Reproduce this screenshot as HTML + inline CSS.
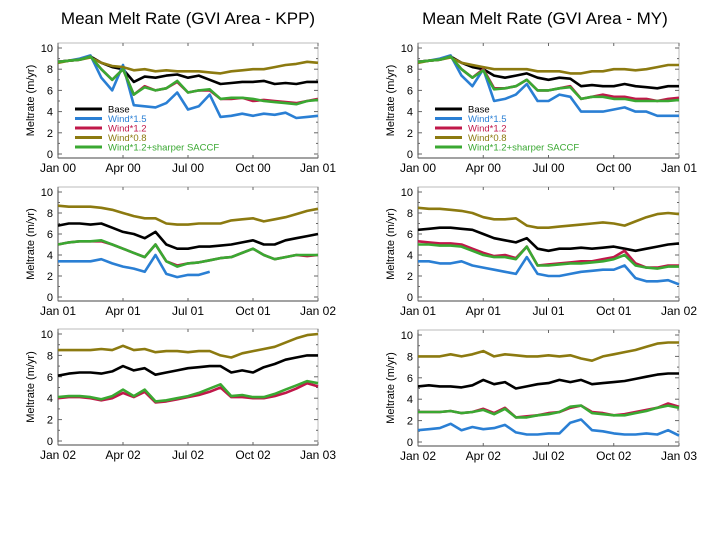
<!DOCTYPE html>
<html><head><meta charset="utf-8">
<style>
html,body{margin:0;padding:0;background:#fff;width:720px;height:540px;overflow:hidden;font-family:"Liberation Sans",sans-serif;}
svg{display:block}
</style></head>
<body>
<svg id="chart" width="720" height="540">
<text x="188" y="24" text-anchor="middle" font-size="17">Mean Melt Rate (GVI Area - KPP)</text>
<text x="545" y="24" text-anchor="middle" font-size="17">Mean Melt Rate (GVI Area - MY)</text>
</svg>
<script>
const seriesNames = ["Base","Wind*1.5","Wind*1.2","Wind*0.8","Wind*1.2+sharper SACCF"];
const seriesNamesRight = ["Base","Wind*1.5","Wind*1.2","Wind*0.8","Wind*1.2+sharper SACCF"];
const colors = ["#000000","#2a7fd4","#c0184a","#8c7a10","#3aa832"];
const yTicks = [0,2,4,6,8,10];
const years = ["00","01","02"];
const monthLabels = ["Jan","Apr","Jul","Oct","Jan"];

const kpp00_base  = [8.7,8.8,8.9,9.2,8.6,8.2,8.0,6.8,7.3,7.2,7.4,7.5,7.2,7.4,7.0,6.6,6.7,6.8,6.8,6.9,6.6,6.7,6.6,6.8,6.8];
const kpp00_blue  = [8.7,8.8,9.0,9.3,7.2,6.0,8.4,4.6,4.5,4.4,4.8,5.8,4.2,4.5,5.6,3.5,3.6,3.8,3.6,3.8,3.7,3.9,3.4,3.5,3.6];
const kpp00_red   = [8.7,8.8,8.9,9.2,8.0,7.0,8.0,5.6,6.4,6.0,6.2,6.8,5.8,6.0,6.0,5.2,5.2,5.3,5.0,5.1,5.0,4.9,4.8,5.0,5.2];
const kpp00_olive = [8.6,8.8,8.9,9.1,8.6,8.3,8.2,7.9,8.0,7.8,7.9,7.8,7.8,7.8,7.7,7.6,7.8,7.9,8.0,8.0,8.2,8.4,8.5,8.7,8.6];
const kpp00_green = [8.7,8.8,8.9,9.2,8.0,7.0,8.0,5.6,6.3,6.0,6.2,6.9,5.8,6.0,6.1,5.2,5.3,5.3,5.2,5.0,4.9,4.8,4.7,5.0,5.1];

const kpp01_base  = [6.8,7.0,7.0,6.9,7.0,6.6,6.2,6.0,5.6,6.2,5.0,4.6,4.6,4.8,4.8,4.9,5.0,5.2,5.4,5.0,5.0,5.4,5.6,5.8,6.0];
const kpp01_blue  = [3.4,3.4,3.4,3.4,3.6,3.2,2.9,2.7,2.4,4.0,2.2,1.9,2.1,2.1,2.4,null,null,null,null,null,null,null,null,null,null];
const kpp01_red   = [5.0,5.2,5.3,5.3,5.3,5.0,4.6,4.2,3.8,5.0,3.4,3.0,3.2,3.3,3.5,3.7,3.8,4.2,4.6,4.0,3.6,3.8,4.0,3.9,4.0];
const kpp01_olive = [8.7,8.6,8.6,8.6,8.5,8.3,8.0,7.7,7.5,7.5,7.0,6.9,6.9,7.0,7.0,7.0,7.3,7.4,7.5,7.2,7.4,7.6,7.9,8.2,8.4];
const kpp01_green = [5.0,5.2,5.3,5.3,5.4,5.0,4.6,4.2,3.8,5.0,3.4,2.9,3.2,3.3,3.5,3.7,3.8,4.2,4.6,4.0,3.6,3.8,4.0,4.0,4.0];

const kpp02_base  = [6.1,6.3,6.4,6.4,6.3,6.5,7.0,6.6,6.8,6.2,6.4,6.6,6.8,6.9,7.0,7.0,6.4,6.6,6.4,6.9,7.2,7.6,7.8,8.0,8.0];
const kpp02_blue  = [null,null,null,null,null,null,null,null,null,null,null,null,null,null,null,null,null,null,null,null,null,null,null,null,null];
const kpp02_red   = [4.0,4.1,4.1,4.0,3.8,4.0,4.5,4.1,4.6,3.6,3.7,3.9,4.1,4.3,4.6,5.0,4.1,4.1,4.0,4.0,4.2,4.5,4.9,5.4,5.1];
const kpp02_olive = [8.5,8.5,8.5,8.5,8.6,8.5,8.9,8.5,8.6,8.3,8.4,8.4,8.3,8.4,8.4,8.0,7.8,8.2,8.4,8.6,8.8,9.2,9.6,9.9,10.0];
const kpp02_green = [4.1,4.2,4.2,4.1,3.9,4.2,4.8,4.2,4.8,3.7,3.8,4.0,4.2,4.5,4.9,5.3,4.2,4.3,4.1,4.1,4.4,4.8,5.2,5.6,5.4];

const my00_base  = [8.7,8.8,8.9,9.2,8.6,8.2,8.0,7.4,7.2,7.4,7.6,7.2,7.0,7.2,7.1,6.4,6.5,6.4,6.4,6.6,6.4,6.3,6.2,6.4,6.4];
const my00_blue  = [8.7,8.8,9.0,9.3,7.4,6.4,8.0,5.0,5.2,5.6,6.6,5.0,5.0,5.6,5.4,4.0,4.0,4.0,4.2,4.4,4.0,4.0,3.6,3.6,3.6];
const my00_red   = [8.7,8.8,8.9,9.2,8.0,7.2,8.0,6.2,6.2,6.4,7.0,6.0,6.0,6.2,6.4,5.2,5.4,5.6,5.4,5.4,5.2,5.2,5.0,5.2,5.3];
const my00_olive = [8.6,8.8,8.9,9.1,8.6,8.4,8.2,8.0,8.0,8.0,8.0,7.8,7.8,7.8,7.6,7.6,7.8,7.8,8.0,8.0,7.9,8.0,8.2,8.4,8.4];
const my00_green = [8.7,8.8,8.9,9.2,8.0,7.2,7.9,6.1,6.2,6.4,7.0,6.0,6.0,6.2,6.3,5.2,5.4,5.4,5.2,5.2,5.0,5.0,5.0,5.0,5.1];

const my01_base  = [6.4,6.5,6.6,6.6,6.5,6.4,6.0,5.6,5.4,5.2,5.6,4.6,4.4,4.6,4.6,4.7,4.6,4.7,4.8,4.6,4.4,4.6,4.8,5.0,5.1];
const my01_blue  = [3.4,3.4,3.2,3.2,3.4,3.0,2.8,2.6,2.4,2.2,3.8,2.2,2.0,2.0,2.2,2.4,2.5,2.6,2.6,3.0,1.8,1.5,1.5,1.6,1.2];
const my01_red   = [5.3,5.2,5.1,5.1,5.0,4.6,4.2,3.9,4.0,3.7,4.8,3.0,3.1,3.2,3.3,3.4,3.4,3.6,3.8,4.4,3.2,2.8,2.8,3.0,3.0];
const my01_olive = [8.5,8.4,8.4,8.3,8.2,8.0,7.6,7.4,7.4,7.5,6.8,6.6,6.6,6.7,6.8,6.9,7.0,7.1,7.0,6.8,7.2,7.6,7.9,8.0,7.9];
const my01_green = [5.0,5.0,4.9,4.9,4.8,4.4,4.0,3.8,3.8,3.6,4.8,3.0,3.0,3.1,3.2,3.2,3.3,3.4,3.6,4.0,3.0,2.8,2.7,2.9,2.9];

const my02_base  = [5.2,5.3,5.2,5.2,5.1,5.3,5.8,5.4,5.6,5.0,5.2,5.4,5.5,5.8,5.6,5.8,5.4,5.5,5.6,5.7,5.9,6.1,6.3,6.4,6.4];
const my02_blue  = [1.1,1.2,1.3,1.7,1.1,1.4,1.2,1.3,1.6,0.9,0.7,0.7,0.8,0.8,1.8,2.1,1.1,1.0,0.8,0.7,0.7,0.8,0.7,1.1,0.6];
const my02_red   = [2.8,2.8,2.8,2.9,2.7,2.8,3.1,2.7,3.2,2.3,2.4,2.5,2.7,2.8,3.2,3.4,2.8,2.7,2.5,2.6,2.8,3.0,3.2,3.6,3.3];
const my02_olive = [8.0,8.0,8.0,8.2,8.0,8.2,8.5,8.0,8.2,8.1,8.0,8.0,8.1,8.0,8.1,7.8,7.6,8.0,8.2,8.4,8.6,8.9,9.2,9.3,9.3];
const my02_green = [2.8,2.8,2.8,2.9,2.7,2.8,3.0,2.6,3.1,2.3,2.3,2.5,2.6,2.8,3.3,3.4,2.7,2.6,2.5,2.5,2.7,2.9,3.2,3.4,3.2];

const NS = "http://www.w3.org/2000/svg";
const svg = document.getElementById("chart");
function mk(tag, attrs, parent){const e=document.createElementNS(NS,tag);for(const k in attrs)e.setAttribute(k,attrs[k]);(parent||svg).appendChild(e);return e;}

const panels = [
 {id:"kpp-2000",x0:58,x1:318,yTop:48,yBot:154,yr:0,data:[kpp00_base,kpp00_blue,kpp00_red,kpp00_olive,kpp00_green],legend:seriesNames},
 {id:"kpp-2001",x0:58,x1:318,yTop:192,yBot:297,yr:1,data:[kpp01_base,kpp01_blue,kpp01_red,kpp01_olive,kpp01_green]},
 {id:"kpp-2002",x0:58,x1:318,yTop:334,yBot:441,yr:2,data:[kpp02_base,kpp02_blue,kpp02_red,kpp02_olive,kpp02_green]},
 {id:"my-2000",x0:418,x1:679,yTop:48,yBot:154,yr:0,data:[my00_base,my00_blue,my00_red,my00_olive,my00_green],legend:seriesNamesRight},
 {id:"my-2001",x0:418,x1:679,yTop:192,yBot:297,yr:1,data:[my01_base,my01_blue,my01_red,my01_olive,my01_green]},
 {id:"my-2002",x0:418,x1:679,yTop:335,yBot:442,yr:2,data:[my02_base,my02_blue,my02_red,my02_olive,my02_green]}
];
const keys=["base","wind-1-5","wind-1-2","wind-0-8","wind-1-2-saccf"];

panels.forEach(p=>{
  const g=mk("g",{});
  
  
  const ys=v=>p.yBot-(v/10)*(p.yBot-p.yTop);
  const xs=f=>p.x0+f*(p.x1-p.x0);
  const fTop=p.yTop-5, fBot=p.yBot+4;
  const fr=mk("rect",{x:p.x0,y:fTop,width:p.x1-p.x0,height:fBot-fTop,fill:"none",stroke:"#bbb","stroke-width":1},g);
  
  
  mk("line",{x1:p.x0,y1:fTop,x2:p.x0,y2:fBot,stroke:"#444","stroke-width":1},g);
  mk("line",{x1:p.x0,y1:fBot,x2:p.x1,y2:fBot,stroke:"#444","stroke-width":1},g);
  for(let v=0;v<=10;v++){
    const y=ys(v), L=v%2===0?4:2;
    mk("line",{x1:p.x0,y1:y,x2:p.x0+L,y2:y,stroke:"#666"},g);
    mk("line",{x1:p.x1-L,y1:y,x2:p.x1,y2:y,stroke:"#666"},g);
  }
  yTicks.forEach(v=>{
    const t=mk("text",{x:p.x0-5,y:ys(v)+4,"text-anchor":"end","font-size":11},g);
    t.textContent=v;
    
    
  });
  monthLabels.forEach((m,i)=>{
    const x=xs(i/4);
    mk("line",{x1:x,y1:fTop,x2:x,y2:fTop+3,stroke:"#666"},g);
    mk("line",{x1:x,y1:fBot-3,x2:x,y2:fBot,stroke:"#666"},g);
    const yy=i===4?years[p.yr+1]||"03":years[p.yr];
    const t=mk("text",{x:x,y:fBot+14,"text-anchor":"middle","font-size":12},g);
    t.textContent=m+" "+(i===4?(p.yr===2?"03":years[p.yr+1]):years[p.yr]);
    
    
  });
  const yl=mk("text",{x:0,y:0,"text-anchor":"middle","font-size":11,transform:`translate(${p.x0-24},${(fTop+fBot)/2}) rotate(-90)`},g);
  yl.textContent="Meltrate (m/yr)";
  
  
  p.data.forEach((arr,si)=>{
    let d="",pen=false;
    const n=arr.length-1;
    arr.forEach((v,i)=>{
      if(v===null){pen=false;return;}
      d+=(pen?"L":"M")+xs(i/n).toFixed(1)+","+ys(v).toFixed(1);pen=true;
    });
    if(!d)return;
    const pl=mk("path",{d:d,fill:"none",stroke:colors[si],"stroke-width":2.6,"stroke-linejoin":"round"},g);
    
    
  });
  if(p.legend){
    const lx=p.x0+17;
    p.legend.forEach((name,i)=>{
      const y=109+i*9.5;
      const le=mk("g",{},g);
      
      
      mk("line",{x1:lx,y1:y,x2:lx+27,y2:y,stroke:colors[i],"stroke-width":3},le);
      const t=mk("text",{x:lx+33,y:y+3.5,"font-size":9.5,fill:colors[i]},le);
      t.textContent=name;
    });
  }
});
</script>
</body></html>
